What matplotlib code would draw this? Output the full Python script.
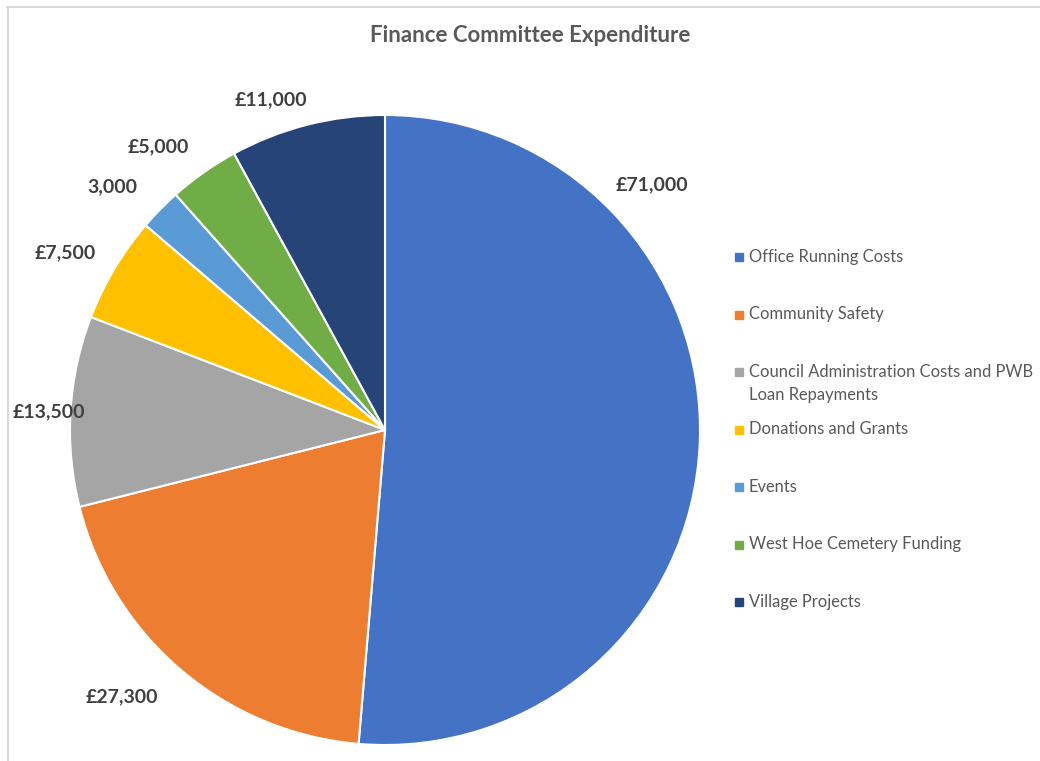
import numpy as np
import matplotlib.pyplot as plt
from matplotlib.patches import Rectangle

plt.rcParams['font.family'] = ['Lato', 'DejaVu Sans']

# Data
categories = ["Office Running Costs", "Community Safety",
              "Council Administration Costs and PWB\nLoan Repayments",
              "Donations and Grants", "Events", "West Hoe Cemetery Funding",
              "Village Projects"]
values = [71000, 27300, 13500, 7500, 3000, 5000, 11000]
value_labels = ["£71,000", "£27,300", "£13,500", "£7,500", "3,000", "£5,000", "£11,000"]
colors = ['#4472C4', '#ED7D31', '#A5A5A5', '#FFC000', '#5B9BD5', '#70AD47', '#264478']

W, H = 1040, 761
fig = plt.figure(figsize=(W / 100, H / 100), dpi=100)
ax = fig.add_axes([0, 0, 1, 1])

cx, cy, R = 385, H - 430, 315
wedges, _ = ax.pie(values, colors=colors, startangle=90, counterclock=False,
                   center=(cx, cy), radius=R, frame=True,
                   wedgeprops=dict(edgecolor='white', linewidth=1.5))
ax.set_xlim(0, W)
ax.set_ylim(0, H)
ax.set_aspect('equal')
ax.axis('off')

# chart border (only top and left visible)
ax.plot([7, W], [H - 6.5, H - 6.5], color='#d9d9d9', lw=1.5)
ax.plot([7.5, 7.5], [0, H - 6.5], color='#d9d9d9', lw=1.5)

# data labels around the pie (Excel best fit nudges them a bit off the mid-angle)
label_shift = [45.0, -4.2, 0.3, 1.8, 2.7, 3.5, 4.7]
label_dist = [1.15, 1.19, 1.07, 1.16, 1.16, 1.15, 1.11]
for i, w in enumerate(wedges):
    ang = np.deg2rad((w.theta1 + w.theta2) / 2 + label_shift[i])
    d = label_dist[i] * R
    ax.text(cx + d * np.cos(ang), cy + d * np.sin(ang), value_labels[i],
            ha='center', va='center', fontsize=14, fontweight='bold', color='#404040')

# title
ax.text(530, H - 36, "Finance Committee Expenditure", ha='center', va='center',
        fontsize=16, fontweight='bold', color='#595959')

# legend, equally spaced slots like Excel
slot_top = 257
slot = 57.5
for i, (name, c) in enumerate(zip(categories, colors)):
    y = H - (slot_top + i * slot)
    ax.add_patch(Rectangle((735, y - 4), 8, 8, color=c))
    for k, line in enumerate(name.split("\n")):
        ax.text(749, y - 23 * k, line, ha='left', va='center', fontsize=11.9,
                color='#595959')

fig.savefig("out.png", dpi=100)
